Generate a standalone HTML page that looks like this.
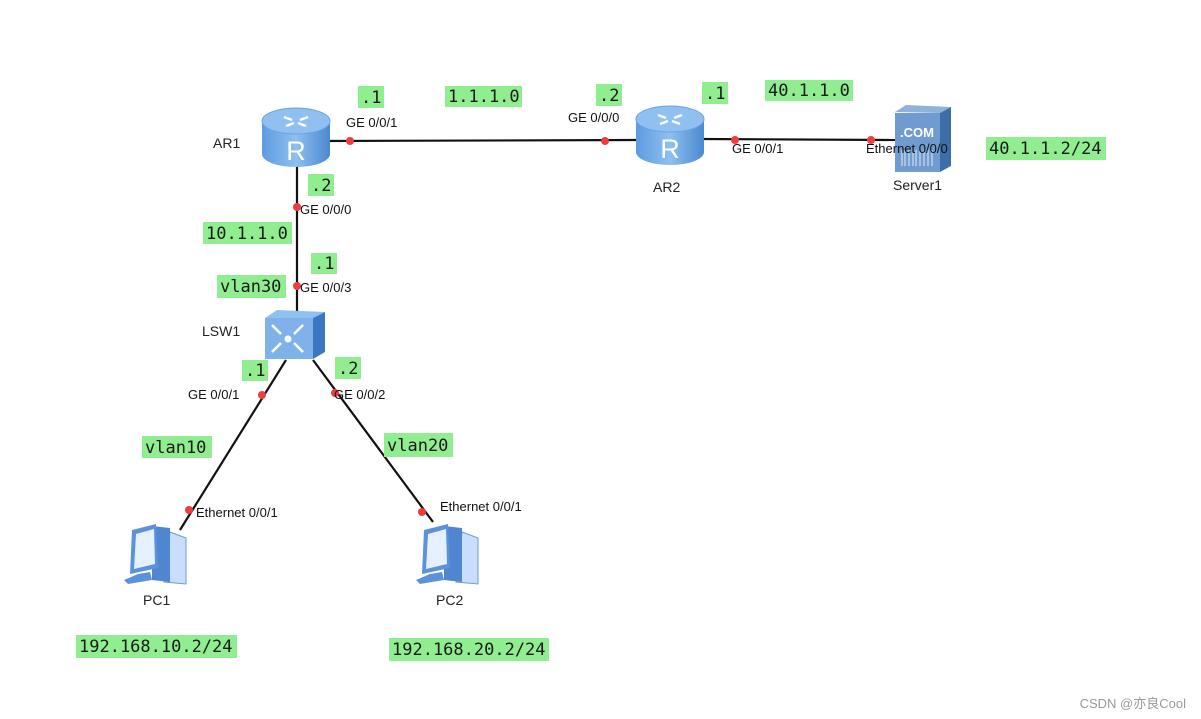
<!DOCTYPE html>
<html><head><meta charset="utf-8"><style>
html,body{margin:0;padding:0;background:#fff;}
svg{display:block;}
.lb{font-family:"Liberation Sans",Arial,sans-serif;font-size:13px;fill:#111;}
.nm{font-family:"Liberation Sans",Arial,sans-serif;font-size:14px;fill:#222;}
.g{fill:#90ee90;}
.m{font-family:"DejaVu Sans Mono","Liberation Mono",monospace;font-size:17px;fill:#1a1a1a;}
</style></head><body>
<svg width="1201" height="719" viewBox="0 0 1201 719" xmlns="http://www.w3.org/2000/svg">
<defs>
<linearGradient id="rb" x1="0" x2="1" y1="0" y2="0">
<stop offset="0" stop-color="#5d9be0"/><stop offset="0.5" stop-color="#8ec0f0"/><stop offset="1" stop-color="#4a88d0"/></linearGradient>
<g id="router">
<path d="M0,13 L0,46 A34,13 0 0 0 68,46 L68,13 Z" fill="url(#rb)"/>
<ellipse cx="34" cy="13" rx="34" ry="13" fill="#8fc0f0" stroke="#6aa4e4"/>
<path d="M22,9 l8,3 M46,9 l-8,3 M24,18 l8,-3 M44,18 l-8,-3" stroke="#fff" stroke-width="2.5"/>
<text x="34" y="52" font-family="Liberation Sans,sans-serif" font-size="27" fill="#fff" text-anchor="middle">R</text>
</g>
<g id="pc">
<path d="M46,12 L62,18 L62,64 L40,62 Z" fill="#c8defa" stroke="#6d9cd8"/>
<path d="M28,6 L46,8 L46,62 L28,60 Z" fill="#4f86cf"/>
<path d="M8,10 L32,4 L34,48 L6,54 Z" fill="#5b92da"/>
<path d="M12,14 L30,9 L31,44 L10,49 Z" fill="#e6f1ff"/>
<path d="M14,54 L26,52 L28,60 L4,64 L0,60 Z" fill="#5b92da"/>
</g>
</defs>

<g stroke="#111" stroke-width="2.2" fill="none">
<line x1="325" y1="141" x2="640" y2="140"/>
<line x1="700" y1="139" x2="897" y2="140"/>
<line x1="297" y1="165" x2="297" y2="315"/>
<line x1="286" y1="360" x2="180" y2="530"/>
<line x1="313" y1="360" x2="433" y2="522"/>
</g>

<use href="#router" x="262" y="108"/>
<use href="#router" x="636" y="106"/>

<path d="M265,318 L277,310 L325,312 L313,318 Z" fill="#8fc0f0"/>
<path d="M313,318 L325,312 L325,352 L313,359 Z" fill="#3a78c4"/>
<rect x="265" y="318" width="48" height="41" fill="#7fb2ea"/>
<g stroke="#fff" stroke-width="2.5" fill="none">
<path d="M272,325 l9,9 M303,325 l-9,9 M272,352 l9,-9 M303,352 l-9,-9"/>
</g>
<circle cx="288" cy="339" r="3.5" fill="#fff"/>

<path d="M895,112 L906,105 L951,107 L940,113 Z" fill="#8fb2d8"/>
<path d="M940,113 L951,107 L951,166 L940,172 Z" fill="#3d6ea8"/>
<rect x="895" y="113" width="45" height="59" fill="#6f9bd0"/>
<text x="917" y="137" font-family="Liberation Sans,sans-serif" font-size="13" font-weight="bold" fill="#fff" text-anchor="middle">.COM</text>
<g stroke="#dfe9f6" stroke-width="1"><path d="M902,150v16M905,150v16M909,150v16M913,150v16M916,150v16M920,150v16M924,150v16M928,150v16M932,150v16"/></g>

<use href="#pc" x="124" y="520"/>
<use href="#pc" x="416" y="520"/>

<g fill="#f03c3c">
<circle cx="350" cy="141" r="4"/><circle cx="605" cy="141" r="4"/>
<circle cx="735" cy="140" r="4"/><circle cx="871" cy="140" r="4"/>
<circle cx="297" cy="207" r="4"/><circle cx="297" cy="286" r="4"/>
<circle cx="262" cy="395" r="4"/><circle cx="335" cy="393" r="4"/>
<circle cx="189" cy="510" r="4"/><circle cx="422" cy="512" r="4"/>
</g>

<text class="lb" x="346" y="127">GE 0/0/1</text>
<text class="lb" x="568" y="122">GE 0/0/0</text>
<text class="lb" x="732" y="153">GE 0/0/1</text>
<text class="lb" x="866" y="153">Ethernet 0/0/0</text>
<text class="lb" x="300" y="214">GE 0/0/0</text>
<text class="lb" x="300" y="292">GE 0/0/3</text>
<text class="lb" x="188" y="399">GE 0/0/1</text>
<text class="lb" x="334" y="399">GE 0/0/2</text>
<text class="lb" x="196" y="517">Ethernet 0/0/1</text>
<text class="lb" x="440" y="511">Ethernet 0/0/1</text>

<text class="nm" x="213" y="148">AR1</text>
<text class="nm" x="653" y="192">AR2</text>
<text class="nm" x="893" y="190">Server1</text>
<text class="nm" x="202" y="336">LSW1</text>
<text class="nm" x="143" y="605">PC1</text>
<text class="nm" x="436" y="605">PC2</text>

<rect class="g" x="358" y="86" width="26" height="22"/><text class="m" x="361" y="103">.1</text>
<rect class="g" x="445" y="86" width="77" height="21"/><text class="m" x="448" y="102">1.1.1.0</text>
<rect class="g" x="596" y="84" width="26" height="22"/><text class="m" x="599" y="101">.2</text>
<rect class="g" x="702" y="82" width="26" height="22"/><text class="m" x="705" y="99">.1</text>
<rect class="g" x="765" y="80" width="88" height="21"/><text class="m" x="768" y="96">40.1.1.0</text>
<rect class="g" x="986" y="137" width="120" height="23"/><text class="m" x="989" y="154">40.1.1.2/24</text>
<rect class="g" x="308" y="174" width="26" height="22"/><text class="m" x="311" y="191">.2</text>
<rect class="g" x="203" y="222" width="89" height="22"/><text class="m" x="206" y="239">10.1.1.0</text>
<rect class="g" x="311" y="253" width="26" height="21"/><text class="m" x="314" y="269">.1</text>
<rect class="g" x="217" y="275" width="69" height="23"/><text class="m" x="220" y="292">vlan30</text>
<rect class="g" x="242" y="360" width="26" height="21"/><text class="m" x="245" y="376">.1</text>
<rect class="g" x="335" y="357" width="26" height="22"/><text class="m" x="338" y="374">.2</text>
<rect class="g" x="142" y="436" width="70" height="22"/><text class="m" x="145" y="453">vlan10</text>
<rect class="g" x="384" y="433" width="69" height="24"/><text class="m" x="387" y="451">vlan20</text>
<rect class="g" x="76" y="635" width="161" height="23"/><text class="m" x="79" y="652">192.168.10.2/24</text>
<rect class="g" x="389" y="638" width="160" height="23"/><text class="m" x="392" y="655">192.168.20.2/24</text>

<text x="1186" y="708" text-anchor="end" font-family="Liberation Sans,'Noto Sans CJK SC',sans-serif" font-size="13" fill="#999">CSDN @亦良Cool</text>
</svg>
</body></html>
